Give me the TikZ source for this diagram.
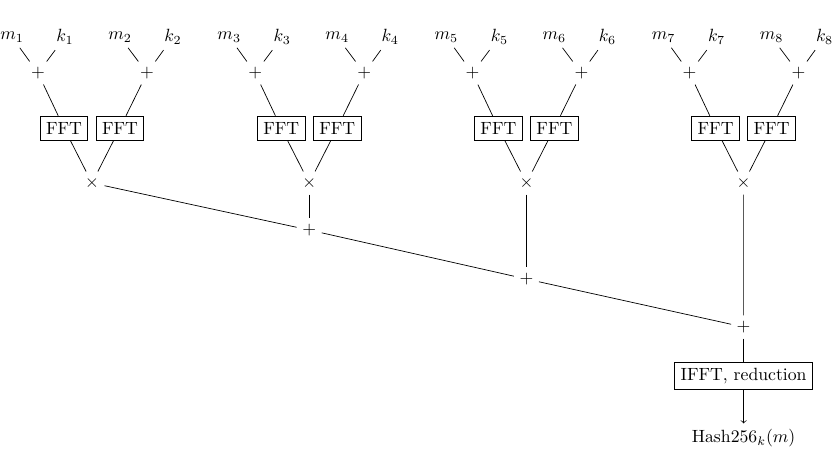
\documentclass[tikz,border=0pt]{standalone}
\begin{document}
\begin{tikzpicture}[x=0.565pt,y=-0.565pt,
  box/.style={draw, inner sep=3.33pt},
  op/.style={inner sep=3pt},
  lbl/.style={inner sep=3pt}]
\useasboundingbox (0,0) rectangle (833,462);
\foreach \g in {0,1,2,3}{
  \pgfmathsetmacro\X{92+217.2*\g}
  \pgfmathtruncatemacro\a{2*\g+1}
  \pgfmathtruncatemacro\b{2*\g+2}
  \node[lbl] (m\a) at (\X-80,37) {$m_{\a}$};
  \node[lbl] (k\a) at (\X-27,37) {$k_{\a}$};
  \node[lbl] (m\b) at (\X+28,37) {$m_{\b}$};
  \node[lbl] (k\b) at (\X+81,37) {$k_{\b}$};
  \node[op] (p\a) at (\X-54,73) {$+$};
  \node[op] (p\b) at (\X+55,73) {$+$};
  \node[box] (f\a) at (\X-28,128) {FFT};
  \node[box] (f\b) at (\X+28,128) {FFT};
  \node[op] (x\g) at (\X,183) {$\times$};
  \draw (m\a) -- (p\a); \draw (k\a) -- (p\a);
  \draw (m\b) -- (p\b); \draw (k\b) -- (p\b);
  \draw (p\a) -- (f\a); \draw (p\b) -- (f\b);
  \draw (f\a) -- (x\g); \draw (f\b) -- (x\g);
}
\node[op] (s1) at (309.2,230) {$+$};
\node[op] (s2) at (526.4,279) {$+$};
\node[op] (s3) at (743.6,327) {$+$};
\node[box] (ifft) at (743.6,376) {IFFT, reduction};
\node[lbl] (hash) at (743.6,438) {Hash256$_k(m)$};
\draw (x0) -- (s1);
\draw (x1) -- (s1);
\draw (s1) -- (s2);
\draw (x2) -- (s2);
\draw (s2) -- (s3);
\draw (x3) -- (s3);
\draw (s3) -- (ifft);
\draw[->] (ifft) -- (hash);
\end{tikzpicture}
\end{document}
